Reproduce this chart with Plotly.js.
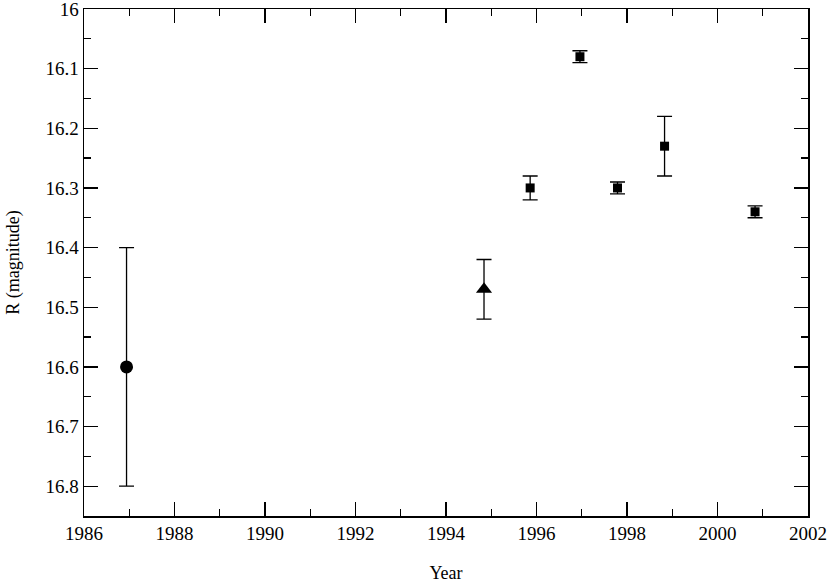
<!DOCTYPE html>
<html>
<head>
<meta charset="utf-8">
<script src="https://cdn.plot.ly/plotly-3.0.1.min.js"></script>
<style>
html,body{margin:0;padding:0;background:#fff;}
#chart{width:830px;height:583px;}
#chart .xtick text, #chart .ytick text{font-family:'Liberation Serif', serif !important; font-size:19px !important; fill:#000 !important;}
</style>
</head>
<body>
<div id="chart"></div>
<script>
// Circle point
const circleYear = [1986.94];
const circleMag = [16.60];
const circleErr = [0.20];
// Triangle point
const triYear = [1994.84];
const triMag = [16.47];
const triErr = [0.05];
// Square points
const sqYear = [1995.86, 1996.96, 1997.79, 1998.83, 2000.83];
const sqMag = [16.30, 16.08, 16.30, 16.23, 16.34];
const sqErr = [0.02, 0.01, 0.01, 0.05, 0.01];
// Tick values
const xTicks = [1986, 1988, 1990, 1992, 1994, 1996, 1998, 2000, 2002];
const yTicks = [16, 16.1, 16.2, 16.3, 16.4, 16.5, 16.6, 16.7, 16.8];

function errCfg(arr){
  return {type:'data', array:arr, visible:true, color:'#000', thickness:1.3, width:7.5};
}
const traces = [
  {x:circleYear, y:circleMag, error_y:errCfg(circleErr), mode:'markers', type:'scatter',
   marker:{symbol:'circle', size:13, color:'#000'}},
  {x:triYear, y:triMag, error_y:errCfg(triErr), mode:'markers', type:'scatter',
   marker:{symbol:'triangle-up', size:14, color:'#000'}},
  {x:sqYear, y:sqMag, error_y:errCfg(sqErr), mode:'markers', type:'scatter',
   marker:{symbol:'square', size:9, color:'#000'}}
];
const serif = 'Liberation Serif';
const axisFont = {family:serif, size:19, color:'#000'};
const titleFont = {family:serif, size:18, color:'#000'};
const layout = {
  width:830, height:583,
  margin:{l:84, r:22, t:9, b:67},
  paper_bgcolor:'#fff', plot_bgcolor:'#fff',
  showlegend:false,
  font:{family:serif, size:18, color:'#000'},
  xaxis:{
    range:[1986, 2002], tickmode:'array', tickvals:xTicks,
    ticks:'inside', ticklen:14, tickwidth:1.3, tickcolor:'#000',
    minor:{dtick:1, tick0:1986, ticks:'inside', ticklen:7, tickwidth:1.3, tickcolor:'#000'},
    showline:true, linecolor:'#000', linewidth:1.5, mirror:'allticks', showgrid:false, zeroline:false,
    tickfont:axisFont, ticklabeloverflow:'allow',
    title:{text:'Year', font:titleFont, standoff:30}
  },
  yaxis:{
    range:[16.85, 16], tickmode:'array', tickvals:yTicks,
    ticks:'inside', ticklen:14, tickwidth:1.3, tickcolor:'#000',
    minor:{dtick:0.05, tick0:16, ticks:'inside', ticklen:7, tickwidth:1.3, tickcolor:'#000'},
    showline:true, linecolor:'#000', linewidth:1.5, mirror:'allticks', showgrid:false, zeroline:false,
    tickfont:axisFont, ticklabeloverflow:'allow',
    title:{text:'R (magnitude)', font:titleFont, standoff:21}
  }
};
Plotly.newPlot('chart', traces, layout, {staticPlot:true});
</script>
</body>
</html>
